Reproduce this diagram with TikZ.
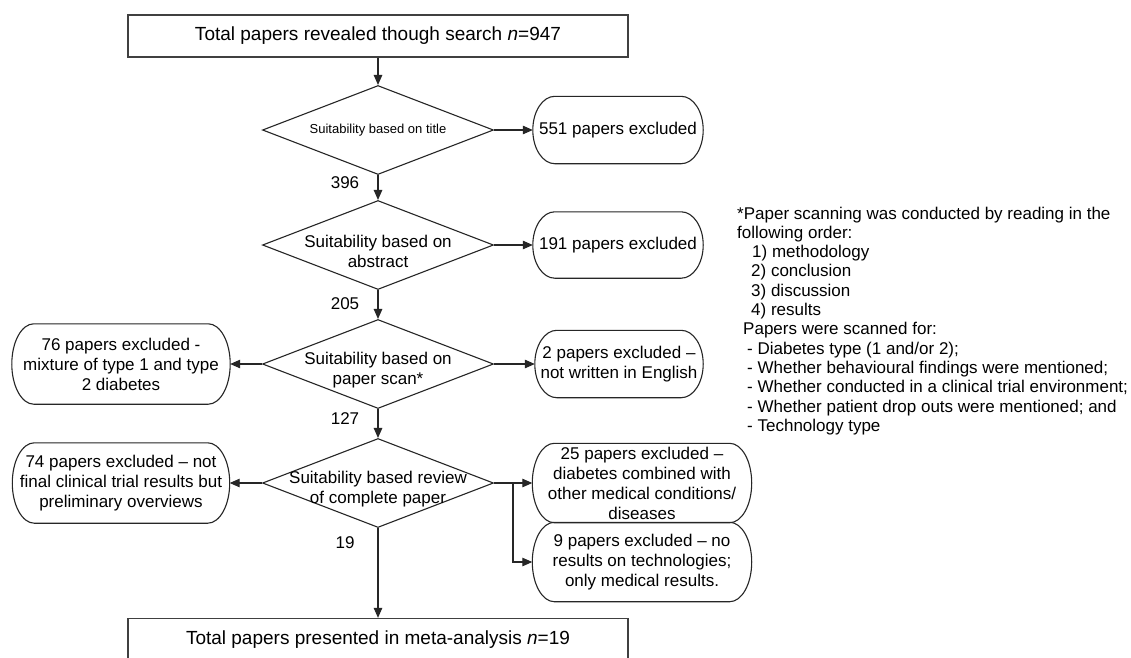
\documentclass[tikz,border=0pt]{standalone}
\usepackage{fontspec}
\setmainfont{Liberation Sans}
\usetikzlibrary{shapes.geometric,arrows.meta,calc}
\newcommand\drawstadium[1]{%
\draw[line] ([xshift=22pt]#1.north west) -- ([xshift=-22pt]#1.north east)
 .. controls ([xshift=-9.856pt]#1.north east) and ($(#1.east)!0.552!(#1.north east)$) .. (#1.east)
 .. controls ($(#1.east)!0.552!(#1.south east)$) and ([xshift=-9.856pt]#1.south east) .. ([xshift=-22pt]#1.south east)
 -- ([xshift=22pt]#1.south west)
 .. controls ([xshift=9.856pt]#1.south west) and ($(#1.west)!0.552!(#1.south west)$) .. (#1.west)
 .. controls ($(#1.west)!0.552!(#1.north west)$) and ([xshift=9.856pt]#1.north west) .. cycle;}
\begin{document}
\begin{tikzpicture}[x=1pt,y=-1pt,
  line/.style={draw=black!85, line width=1.1pt},
  arr/.style={line, -{Triangle[length=10pt,width=8.5pt]}},
  mainbox/.style={draw=black!75, line width=1.3pt, minimum width=500pt, minimum height=42pt, inner sep=0pt, font=\fontsize{19}{22}\selectfont},
  dia/.style={diamond, draw=black!85, line width=1.1pt, minimum width=231pt, minimum height=89pt, inner sep=0pt},
  diatext/.style={align=center, inner sep=0pt, font=\fontsize{17}{20}\selectfont},
  excl/.style={rectangle, align=center, inner sep=0pt, font=\fontsize{17}{20}\selectfont},
  num/.style={inner sep=0pt, font=\fontsize{17}{20}\selectfont},
  notetext/.style={align=left, inner sep=0pt, anchor=north west, font=\fontsize{17}{19.3}\selectfont}
]
\clip (0,0) rectangle (1131,657);
\fill[white] (0,0) rectangle (1131,657);

% main boxes
\node[mainbox] (top) at (378,36) {Total papers revealed though search \textit{n}=947};
\node[mainbox] (bot) at (378,639.5) {Total papers presented in meta-analysis \textit{n}=19};

% diamonds
\node[dia] (d1) at (378,130) {};
\node[dia] (d2) at (378,245) {};
\node[dia] (d3) at (378,364) {};
\node[dia] (d4) at (378,483) {};
\node[diatext, font=\fontsize{13}{15}\selectfont] (d1t) at (378,130) {Suitability based on title};
\node[diatext] (d2t) at (378,251) {Suitability based on\\abstract};
\node[diatext] (d3t) at (378,370) {Suitability based on\\paper scan*};
\node[diatext] (d4t) at (378,489) {Suitability based review\\of complete paper};

% exclusion boxes
\node[excl, minimum width=170pt, minimum height=67pt] (e1) at (618,130) {551 papers excluded};
\node[excl, minimum width=170pt, minimum height=66pt] (e2) at (618,245) {191 papers excluded};
\node[excl, minimum width=168pt, minimum height=67pt] (e3) at (619,364) {2 papers excluded --\\not written in English};
\node[excl, minimum width=219pt, minimum height=79pt] (e4) at (642,483) {25 papers excluded --\\diabetes combined with\\other medical conditions/\\diseases};
\node[excl, minimum width=219pt, minimum height=79pt] (e5) at (642,562) {9 papers excluded -- no\\results on technologies;\\only medical results.};
\node[excl, minimum width=218pt, minimum height=80pt] (e6) at (121,364) {76 papers excluded -\\mixture of type 1 and type\\2 diabetes};
\node[excl, minimum width=217pt, minimum height=80pt] (e7) at (121,483) {74 papers excluded -- not\\final clinical trial results but\\preliminary overviews};
\drawstadium{e1}
\drawstadium{e2}
\drawstadium{e3}
\drawstadium{e4}
\drawstadium{e5}
\drawstadium{e6}
\drawstadium{e7}

% numbers
\node[num] (n1) at (345,183) {396};
\node[num] (n2) at (345,304) {205};
\node[num] (n3) at (345,419) {127};
\node[num] (n4) at (345,543) {19};

% vertical flow
\draw[arr] (top.south) -- (d1.north);
\draw[arr] (d1.south) -- (d2.north);
\draw[arr] (d2.south) -- (d3.north);
\draw[arr] (d3.south) -- (d4.north);
\draw[arr] (d4.south) -- (bot.north);

% side arrows
\draw[arr] (d1.east) -- (e1.west);
\draw[arr] (d2.east) -- (e2.west);
\draw[arr] (d3.east) -- (e3.west);
\draw[arr] (d3.west) -- (e6.east);
\draw[arr] (d4.west) -- (e7.east);
\coordinate (j) at (513,483);
\draw[arr] (d4.east) -- (j) -- (e4.west);
\draw[arr] (j) |- (e5.west);

% note
\node[notetext] (note) at (737,206.5) {*Paper scanning was conducted by reading in the\\
following order:\\
\hspace*{15pt}1) methodology\\
\hspace*{14pt}2) conclusion\\
\hspace*{14pt}3) discussion\\
\hspace*{14pt}4) results\\
\hspace*{6pt}Papers were scanned for:\\
\hspace*{10pt}- Diabetes type (1 and/or 2);\\
\hspace*{10pt}- Whether behavioural findings were mentioned;\\
\hspace*{10pt}- Whether conducted in a clinical trial environment;\\
\hspace*{10pt}- Whether patient drop outs were mentioned; and\\
\hspace*{10pt}- Technology type};
\end{tikzpicture}
\end{document}
